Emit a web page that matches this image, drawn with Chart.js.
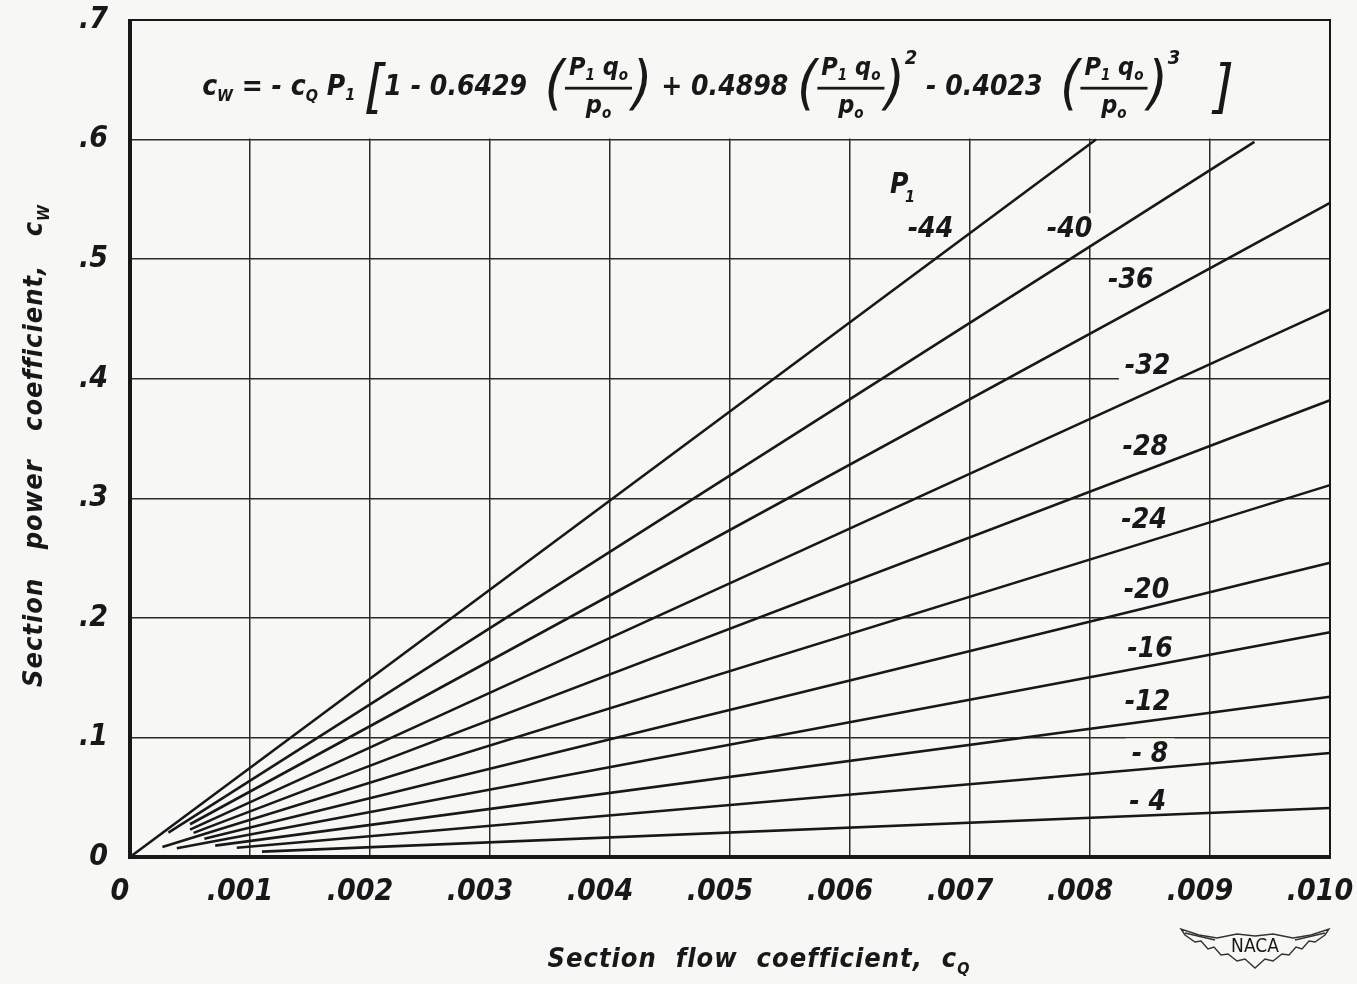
<!DOCTYPE html>
<html><head><meta charset="utf-8">
<script src="https://cdn.jsdelivr.net/npm/chart.js@4.4.1/dist/chart.umd.min.js"></script>
<style>html,body{margin:0;padding:0;background:#f7f7f5;}canvas{display:block}</style>
</head><body>
<canvas id="c" width="1357" height="984"></canvas>
<script>
// ---- data ----
const p1Values = [-4, -8, -12, -16, -20, -24, -28, -32, -36, -40, -44];
const startCq  = [0.0011, 0.00089, 0.00071, 0.00039, 0.00062, 0.00027, 0.00053, 0.0005, 0.0005, 0.00032, 0];
const startCw  = [0.0045, 0.0077, 0.0095, 0.0073, 0.0153, 0.0084, 0.0202, 0.0229, 0.0274, 0.0204, 0];
const endCq    = [0.010, 0.010, 0.010, 0.010, 0.010, 0.010, 0.010, 0.010, 0.010, 0.00937, 0.00805];
const endCw    = [0.041, 0.087, 0.134, 0.188, 0.246, 0.311, 0.382, 0.458, 0.547, 0.598, 0.600];
const xTickValues = [0, 0.001, 0.002, 0.003, 0.004, 0.005, 0.006, 0.007, 0.008, 0.009, 0.010];
const xTickLabels = ['0', '.001', '.002', '.003', '.004', '.005', '.006', '.007', '.008', '.009', '.010'];
const yTickValues = [0, 0.1, 0.2, 0.3, 0.4, 0.5, 0.6, 0.7];
const yTickLabels = ['0', '.1', '.2', '.3', '.4', '.5', '.6', '.7'];
const curveLabels = ['- 4', '- 8', '-12', '-16', '-20', '-24', '-28', '-32', '-36', '-40', '-44'];
const curveLabelCq = [0.00848, 0.0085, 0.00848, 0.0085, 0.00847, 0.00845, 0.00846, 0.00848, 0.00834, 0.00783, 0.00667];
const curveLabelCw = [0.0458, 0.0858, 0.129, 0.173, 0.223, 0.281, 0.342, 0.41, 0.482, 0.525, 0.5246];
const headerLabelPos = {cq: 0.0064, cw: 0.561};

// ---- styles ----
const PAPER = '#f7f7f5';
const INK = '#181818';
const GRID = '#2c2c22';
const FAM = "'Liberation Sans Narrow','DejaVu Sans Condensed','Liberation Sans',sans-serif";
const fnt = (s, w) => `italic ${w || 'bold'} ${s}px ${FAM}`;

function drawRun(ctx, tokens, x0, cy, measureOnly) {
  let x = x0;
  for (const tk of tokens) {
    if (tk.frac) {
      const wn = drawRun(ctx, tk.num, 0, 0, true);
      const wd = drawRun(ctx, tk.den, 0, 0, true);
      const w = Math.max(wn, wd) + 8;
      if (!measureOnly) {
        drawRun(ctx, tk.num, x + (w - wn) / 2, cy - 19, false);
        drawRun(ctx, tk.den, x + (w - wd) / 2, cy + 19, false);
        ctx.fillRect(x, cy - 1, w, 2.8);
      }
      x += w;
    } else {
      ctx.font = fnt(tk.s, tk.w);
      const w = ctx.measureText(tk.t).width;
      if (!measureOnly) ctx.fillText(tk.t, x, cy + (tk.dy || 0));
      x += w;
    }
  }
  return x - x0;
}

const S = 28, B = 58;
const fracTok = () => ({frac: true,
  num: [{t: 'P', s: 25}, {t: '1', s: 15, dy: 7}, {t: ' q', s: 25}, {t: 'o', s: 15, dy: 7}],
  den: [{t: 'p', s: 25}, {t: 'o', s: 15, dy: 7}]});
const formulaTokens = [
  {t: 'c', s: S}, {t: 'W', s: 16, dy: 9}, {t: ' = - c', s: S}, {t: 'Q', s: 16, dy: 9},
  {t: ' P', s: S}, {t: '1', s: 16, dy: 8}, {t: ' ', s: S}, {t: '[', s: B, dy: 4, w: 'normal'},
  {t: '1 - 0.6429  ', s: S}, {t: '(', s: B, w: 'normal'}, fracTok(), {t: ')', s: B, w: 'normal'},
  {t: ' + 0.4898 ', s: S}, {t: '(', s: B, w: 'normal'}, fracTok(), {t: ')', s: B, w: 'normal'}, {t: '2', s: 20, dy: -29},
  {t: ' - 0.4023  ', s: S}, {t: '(', s: B, w: 'normal'}, fracTok(), {t: ')', s: B, w: 'normal'}, {t: '3', s: 20, dy: -29},
  {t: '  ]', s: B, dy: 4, w: 'normal'}
];

const decor = {
  id: 'decor',
  beforeDraw(chart) {
    const ctx = chart.ctx;
    ctx.save(); ctx.fillStyle = PAPER; ctx.fillRect(0, 0, chart.width, chart.height); ctx.restore();
  },
  beforeDatasetsDraw(chart) {
    const {ctx, chartArea: a, scales: {x, y}} = chart;
    ctx.save();
    // blank band above the .6 line (formula box)
    ctx.fillStyle = PAPER;
    ctx.fillRect(a.left + 1, a.top + 1, a.right - a.left - 2, y.getPixelForValue(0.6) - a.top - 2);
    // curve labels with paper backgrounds
    ctx.font = fnt(28); ctx.textAlign = 'center'; ctx.textBaseline = 'middle';
    curveLabels.forEach((t, i) => {
      const px = x.getPixelForValue(curveLabelCq[i]), py = y.getPixelForValue(curveLabelCw[i]);
      const w = ctx.measureText(t).width + 12;
      ctx.fillStyle = PAPER; ctx.fillRect(px - w / 2, py - 16, w, 32);
      ctx.fillStyle = INK; ctx.fillText(t, px, py);
    });
    // P1 header
    const hx = x.getPixelForValue(headerLabelPos.cq), hy = y.getPixelForValue(headerLabelPos.cw);
    ctx.textAlign = 'left';
    ctx.font = fnt(28); ctx.fillText('P', hx - 8, hy);
    ctx.font = fnt(16); ctx.fillText('1', hx + 7, hy + 12);
    // frame
    ctx.fillStyle = INK;
    ctx.fillRect(a.left - 2, a.top, 4, a.bottom - a.top + 2);
    ctx.fillRect(a.left - 2, a.bottom - 2, a.right - a.left + 3, 4);
    ctx.fillRect(a.left - 2, a.top - 1, a.right - a.left + 3, 2);
    ctx.fillRect(a.right - 1, a.top - 1, 2, a.bottom - a.top + 2);
    ctx.restore();
  },
  afterDraw(chart) {
    const {ctx, chartArea: a, scales: {y}} = chart;
    ctx.save();
    ctx.fillStyle = INK; ctx.strokeStyle = INK;
    ctx.textBaseline = 'middle'; ctx.textAlign = 'left';
    // formula
    const cy = (y.getPixelForValue(0.7) + y.getPixelForValue(0.6)) / 2 + 8;
    const w = drawRun(ctx, formulaTokens, 0, 0, true);
    drawRun(ctx, formulaTokens, (a.left + a.right) / 2 - w / 2 - 12, cy, false);
    // axis titles
    ctx.letterSpacing = '1px';
    const xt = [{t: 'Section  flow  coefficient,  c', s: 27}, {t: 'Q', s: 16, dy: 10}];
    const wx = drawRun(ctx, xt, 0, 0, true);
    drawRun(ctx, xt, (a.left + a.right) / 2 + 29 - wx / 2, a.bottom + 103, false);
    ctx.letterSpacing = '1px';
    const yt = [{t: 'Section   power   coefficient,   c', s: 27}, {t: 'W', s: 16, dy: 10}];
    const wy = drawRun(ctx, yt, 0, 0, true);
    ctx.translate(a.left - 95, (a.top + a.bottom) / 2 + 7);
    ctx.rotate(-Math.PI / 2);
    drawRun(ctx, yt, -wy / 2, 0, false);
    ctx.restore();
    // NACA emblem
    ctx.save();
    const cx = a.right - 75, ey = a.bottom + 88;
    ctx.translate(cx, ey);
    ctx.strokeStyle = '#333'; ctx.lineWidth = 1.4;
    const half = [[0, -9], [18, -11], [38, -7], [56, -10], [74, -16], [70, -10], [60, -3], [54, -4], [47, 4], [41, 2], [34, 10], [27, 9], [18, 16], [10, 14], [0, 23]];
    ctx.beginPath();
    half.forEach(([px, py], i) => i ? ctx.lineTo(px, py) : ctx.moveTo(px, py));
    for (let i = half.length - 1; i >= 0; i--) ctx.lineTo(-half[i][0], half[i][1]);
    ctx.closePath(); ctx.stroke();
    ctx.beginPath(); ctx.moveTo(-70, -12); ctx.lineTo(-40, -5); ctx.moveTo(70, -12); ctx.lineTo(40, -5); ctx.stroke();
    ctx.fillStyle = INK; ctx.font = "normal 19px 'Liberation Sans Narrow','DejaVu Sans Condensed',sans-serif";
    ctx.textAlign = 'center'; ctx.textBaseline = 'middle';
    ctx.fillText('NACA', 0, 2);
    ctx.restore();
  }
};

const datasets = p1Values.map((p, i) => ({
  label: 'P1 = ' + p,
  data: [{x: startCq[i], y: startCw[i]}, {x: endCq[i], y: endCw[i]}],
  showLine: true, pointRadius: 0, borderColor: INK, borderWidth: 2.6, fill: false, clip: false
}));

new Chart(document.getElementById('c'), {
  type: 'scatter',
  data: {datasets},
  options: {
    responsive: false, animation: false, devicePixelRatio: 1,
    layout: {padding: {left: 0, right: 27, top: 20, bottom: 0}},
    plugins: {legend: {display: false}, tooltip: {enabled: false}},
    scales: {
      x: {
        type: 'linear', min: 0, max: 0.010,
        afterBuildTicks: s => { s.ticks = xTickValues.map(v => ({value: v})); },
        afterFit: s => { s.height = 127; s.paddingLeft = 0; s.paddingRight = 0; },
        grid: {color: GRID, lineWidth: 1.5, drawTicks: false}, border: {display: false},
        ticks: {padding: 17, labelOffset: -10, color: INK, maxRotation: 0, autoSkip: false,
          font: {family: FAM, size: 30, style: 'italic', weight: 'bold'}, callback: (v, i) => xTickLabels[i]}
      },
      y: {
        type: 'linear', min: 0, max: 0.7,
        afterBuildTicks: s => { s.ticks = yTickValues.map(v => ({value: v})); },
        afterFit: s => { s.width = 130; s.paddingTop = 0; s.paddingBottom = 0; },
        grid: {color: GRID, lineWidth: 1.5, drawTicks: false}, border: {display: false},
        ticks: {padding: 22, color: INK, autoSkip: false,
          font: {family: FAM, size: 30, style: 'italic', weight: 'bold'}, callback: (v, i) => yTickLabels[i]}
      }
    }
  },
  plugins: [decor]
});
</script>
</body></html>
